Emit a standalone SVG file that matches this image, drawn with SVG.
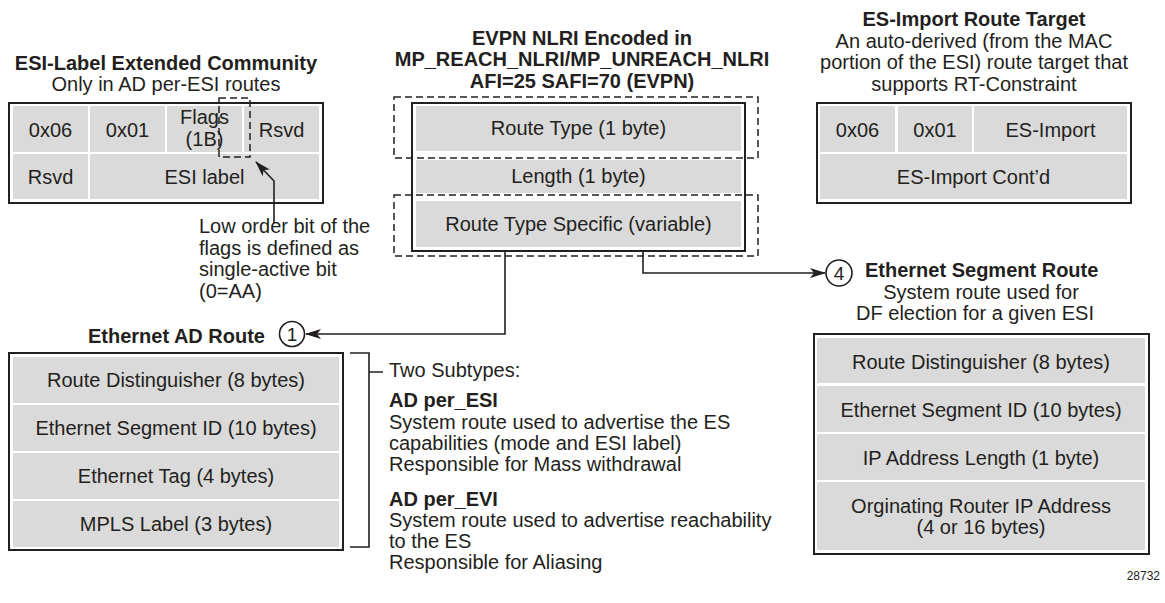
<svg xmlns="http://www.w3.org/2000/svg" width="1165" height="603" viewBox="0 0 1165 603">
<style>
text{font-family:"Liberation Sans",Arial,Helvetica,sans-serif;font-size:20px;fill:#231f20}
.b{font-weight:bold}
.m{text-anchor:middle}
.e{text-anchor:end}
.outer{fill:#fff;stroke:#231f20;stroke-width:2}
.cell{fill:#dadada;stroke:none}
.dash{fill:none;stroke:#231f20;stroke-width:1.5;stroke-dasharray:7 4}
.ln{fill:none;stroke:#231f20;stroke-width:1.6}
.circ{fill:#fff;stroke:#231f20;stroke-width:1.6}
</style>
<defs>
<marker id="arr" markerUnits="userSpaceOnUse" viewBox="0 0 16 10" refX="15" refY="5" markerWidth="16" markerHeight="10" orient="auto">
<path d="M0,0 L16,5 L0,10 L4,5 z" fill="#231f20"/>
</marker>
</defs>

<g id="esi-label">
<text class="b m" x="166" y="70">ESI-Label Extended Community</text>
<text class="m" x="166" y="91">Only in AD per-ESI routes</text>
<rect class="outer" x="9" y="103" width="314" height="100"/>
<rect class="cell" x="13" y="106" width="75" height="46"/>
<rect class="cell" x="90" y="106" width="75" height="46"/>
<rect class="cell" x="167" y="106" width="75" height="46"/>
<rect class="cell" x="244" y="106" width="75" height="46"/>
<rect class="cell" x="13" y="154" width="75" height="45"/>
<rect class="cell" x="90" y="154" width="229" height="45"/>
<text class="m" x="50.5" y="137">0x06</text>
<text class="m" x="127.5" y="137">0x01</text>
<text class="m" x="204.5" y="124">Flags</text>
<text class="m" x="204.5" y="146">(1B)</text>
<text class="m" x="281.5" y="137">Rsvd</text>
<text class="m" x="50.5" y="184">Rsvd</text>
<text class="m" x="204.5" y="184">ESI label</text>
<rect class="dash" x="219" y="98" width="31" height="59"/>
</g>

<g id="note-flags">
<text x="199" y="233">Low order bit of the</text>
<text x="199" y="255">flags is defined as</text>
<text x="199" y="276">single-active bit</text>
<text x="199" y="298">(0=AA)</text>
</g>

<g id="evpn-nlri">
<text class="b m" x="582" y="45">EVPN NLRI Encoded in</text>
<text class="b m" x="582" y="66">MP_REACH_NLRI/MP_UNREACH_NLRI</text>
<text class="b m" x="582" y="88">AFI=25 SAFI=70 (EVPN)</text>
<rect class="outer" x="412" y="103" width="333" height="148"/>
<rect class="cell" x="416" y="106" width="325" height="45"/>
<rect class="cell" x="416" y="160" width="325" height="33"/>
<rect class="cell" x="416" y="201" width="325" height="46"/>
<text class="m" x="578.5" y="135">Route Type (1 byte)</text>
<text class="m" x="578.5" y="183">Length (1 byte)</text>
<text class="m" x="578.5" y="231">Route Type Specific (variable)</text>
<rect class="dash" x="394" y="97" width="364" height="61"/>
<rect class="dash" x="394" y="195" width="364" height="61"/>
</g>

<g id="es-import">
<text class="b m" x="974" y="26">ES-Import Route Target</text>
<text class="m" x="974" y="48">An auto-derived (from the MAC</text>
<text class="m" x="974" y="69">portion of the ESI) route target that</text>
<text class="m" x="974" y="91">supports RT-Constraint</text>
<rect class="outer" x="817" y="103" width="314" height="100"/>
<rect class="cell" x="820" y="106" width="75" height="46"/>
<rect class="cell" x="898" y="106" width="74" height="46"/>
<rect class="cell" x="974" y="106" width="153" height="46"/>
<rect class="cell" x="820" y="154" width="307" height="45"/>
<text class="m" x="857.5" y="137">0x06</text>
<text class="m" x="935" y="137">0x01</text>
<text class="m" x="1050.5" y="137">ES-Import</text>
<text class="m" x="973.5" y="184">ES-Import Cont’d</text>
</g>

<g id="ethernet-ad">
<text class="b e" x="265" y="343">Ethernet AD Route</text>
<rect class="outer" x="9" y="353" width="334" height="197"/>
<rect class="cell" x="13" y="357" width="326" height="46"/>
<rect class="cell" x="13" y="405" width="326" height="46"/>
<rect class="cell" x="13" y="453" width="326" height="46"/>
<rect class="cell" x="13" y="501" width="326" height="46"/>
<text class="m" x="176" y="387">Route Distinguisher (8 bytes)</text>
<text class="m" x="176" y="435">Ethernet Segment ID (10 bytes)</text>
<text class="m" x="176" y="483">Ethernet Tag (4 bytes)</text>
<text class="m" x="176" y="531">MPLS Label (3 bytes)</text>
</g>

<g id="subtypes">
<path class="ln" d="M350 353 H369 V547 H350 M369 372 H383"/>
<text x="389" y="377">Two Subtypes:</text>
<text class="b" x="389" y="407">AD per_ESI</text>
<text x="389" y="429">System route used to advertise the ES</text>
<text x="389" y="450">capabilities (mode and ESI label)</text>
<text x="389" y="471">Responsible for Mass withdrawal</text>
<text class="b" x="389" y="506">AD per_EVI</text>
<text x="389" y="527">System route used to advertise reachability</text>
<text x="389" y="548">to the ES</text>
<text x="389" y="569">Responsible for Aliasing</text>
</g>

<g id="es-route">
<text class="b" x="865" y="277">Ethernet Segment Route</text>
<text class="m" x="981" y="299">System route used for</text>
<text class="m" x="975" y="320">DF election for a given ESI</text>
<rect class="outer" x="814" y="334" width="335" height="220"/>
<rect class="cell" x="817" y="338" width="328" height="45"/>
<rect class="cell" x="817" y="386" width="328" height="46"/>
<rect class="cell" x="817" y="434" width="328" height="46"/>
<rect class="cell" x="817" y="482" width="328" height="68"/>
<text class="m" x="981" y="369">Route Distinguisher (8 bytes)</text>
<text class="m" x="981" y="417">Ethernet Segment ID (10 bytes)</text>
<text class="m" x="981" y="465">IP Address Length (1 byte)</text>
<text class="m" x="981" y="513">Orginating Router IP Address</text>
<text class="m" x="981" y="534">(4 or 16 bytes)</text>
</g>

<g id="badge-1">
<circle class="circ" cx="292" cy="334" r="12.5"/>
<text class="m" x="292" y="341" style="font-size:19px">1</text>
</g>
<g id="badge-4">
<circle class="circ" cx="839" cy="273" r="13"/>
<text class="m" x="839" y="280" style="font-size:19px">4</text>
</g>

<g id="connectors">
<path class="ln" d="M505 251 V334 H306" marker-end="url(#arr)"/>
<path class="ln" d="M643 251 V273 H825" marker-end="url(#arr)"/>
<path class="ln" d="M274 223 V181 L256 162" marker-end="url(#arr)"/>
</g>

<text class="e" x="1160" y="580" style="font-size:12px">28732</text>
</svg>
